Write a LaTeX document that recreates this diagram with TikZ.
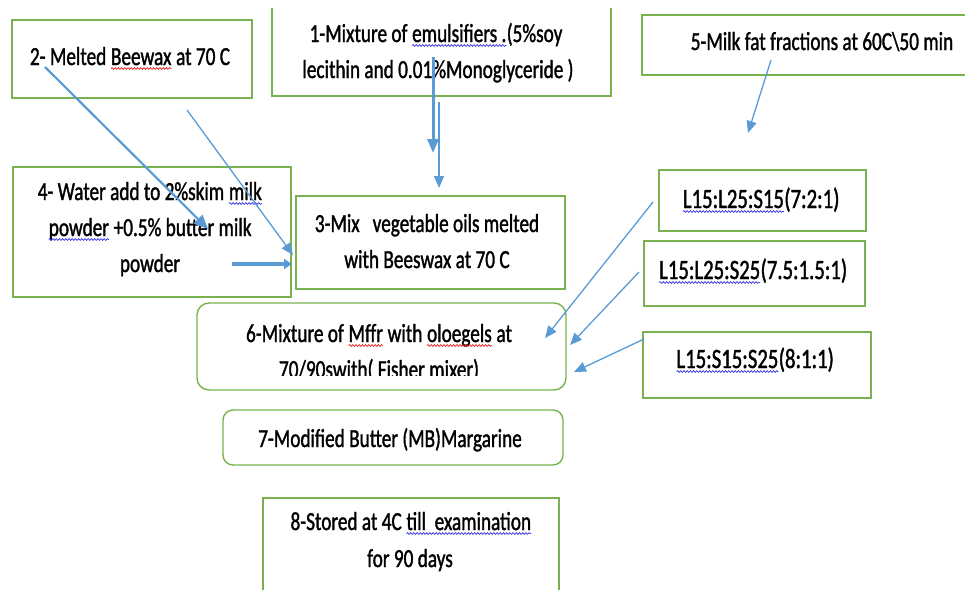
\documentclass[tikz,border=0pt]{standalone}
\usepackage{fontspec}
\setmainfont{Carlito}[FakeStretch=0.74,FakeBold=1.3]
\usetikzlibrary{arrows.meta,decorations.pathmorphing}
\definecolor{boxgreen}{RGB}{120,178,80}
\definecolor{arrowblue}{RGB}{91,155,213}
\definecolor{sqred}{RGB}{230,30,30}
\definecolor{sqblue}{RGB}{50,50,230}
\newcommand\sqw[2]{\tikz[baseline=(w.base)]{\node[inner sep=0pt,outer sep=0pt] (w) {#2};\draw[#1,line width=0.7pt,decorate,decoration={snake,amplitude=0.9pt,segment length=3.2pt}] ([yshift=-3.5pt]w.base west) -- ([yshift=-3.5pt]w.base east);}}
\begin{document}
\begin{tikzpicture}[x=1pt,y=-1pt,
  box/.style={draw=boxgreen,line width=1.4pt,inner sep=0pt,outer sep=0pt,anchor=north west},
  rbox/.style={box,rounded corners=12pt},
  txt/.style={font=\fontsize{26}{36}\selectfont,inner sep=0pt,outer sep=0pt,anchor=base},
  ltxt/.style={txt,font=\fontsize{28}{36}\selectfont},
  arrthin/.style={draw=arrowblue,line width=1.3pt,-{Triangle[length=12pt,width=10pt]}},
  arrmed/.style={draw=arrowblue,line width=2.2pt,-{Triangle[length=14pt,width=12pt]}},
  arrthick/.style={draw=arrowblue,line width=3pt,-{Triangle[length=14pt,width=11pt]}},
  arrfat/.style={draw=arrowblue,line width=4pt,-{Triangle[length=8pt,width=10pt]}}]
\useasboundingbox (0,0) rectangle (965,589);
\clip (0,0) rectangle (965,589);

% boxes
\node[box,minimum width=240pt,minimum height=78pt] (b2) at (12,20) {};
\begin{scope}
\clip (0,8) rectangle (965,589);
\node[box,minimum width=339pt,minimum height=120pt] (b1) at (272,-24) {};
\end{scope}
\node[box,minimum width=340pt,minimum height=60pt] (b5) at (642,15) {};
\node[box,minimum width=278pt,minimum height=130pt] (b4) at (13,167) {};
\node[box,minimum width=269pt,minimum height=93pt] (b3) at (296,196) {};
\node[rbox,minimum width=369pt,minimum height=87pt] (b6) at (197,303) {};
\node[rbox,rounded corners=10pt,minimum width=340pt,minimum height=55pt] (b7) at (223,410) {};
\node[box,minimum width=296pt,minimum height=120pt] (b8) at (263,498) {};
\node[box,minimum width=207pt,minimum height=61pt] (l1) at (659,170) {};
\node[box,minimum width=221pt,minimum height=65pt] (l2) at (644,241) {};
\node[box,minimum width=228pt,minimum height=66pt] (l3) at (643,332) {};

% texts
\node[txt] (t2) at (130,65) {2- Melted \sqw{sqred}{Beewax} at 70 C};
\node[txt] (t1a) at (436,42) {1-Mixture of \sqw{sqblue}{emulsifiers .}(5\%soy};
\node[txt] (t1b) at (438,78) {lecithin and 0.01\%Monoglyceride )};
\node[txt] (t5) at (822,50) {5-Milk fat fractions at 60C\textbackslash 50 min};
\node[txt] (t4a) at (150,200) {4- Water add to 2\%skim \sqw{sqblue}{milk}};
\node[txt] (t4b) at (150,236) {\sqw{sqblue}{powder} +0.5\% butter milk};
\node[txt] (t4c) at (150,272) {powder};
\node[txt] (t3a) at (427,232) {3-Mix\ \ \ vegetable oils melted};
\node[txt] (t3b) at (427,268) {with Beeswax at 70 C};
\node[txt] (t6a) at (379,342) {6-Mixture of \sqw{sqred}{Mffr} with \sqw{sqred}{oloegels} at};
\begin{scope}
\clip (150,300) rectangle (600,375);
\node[txt] (t6b) at (379,378) {70/90swith( Fisher mixer)};
\end{scope}
\node[txt] (t7) at (390,447) {7-Modified Butter (MB)Margarine};
\node[txt] (t8a) at (411,530) {8-Stored at 4C \sqw{sqblue}{till\ \ examination}};
\node[txt] (t8b) at (410,567) {for 90 days};
\node[ltxt] (tl1) at (761,208) {\sqw{sqblue}{L15:L25:S15}(7:2:1)};
\node[ltxt] (tl2) at (753,279) {\sqw{sqblue}{L15:L25:S25}(7.5:1.5:1)};
\node[ltxt] (tl3) at (755,368) {\sqw{sqblue}{L15:S15:S25}(8:1:1)};

% arrow end points
\coordinate (a1s) at (433,57);  \coordinate (a1e) at (433,153);
\coordinate (a2s) at (439,102); \coordinate (a2e) at (439,188);
\coordinate (a3s) at (45,67);   \coordinate (a3e) at (208,229);
\coordinate (a4s) at (187,110); \coordinate (a4e) at (293,255);
\coordinate (a5s) at (232,264); \coordinate (a5e) at (292,264);
\coordinate (a6s) at (771,60);  \coordinate (a6e) at (748,133);
\coordinate (a7s) at (653,202); \coordinate (a7e) at (545,338);
\coordinate (a8s) at (639,272); \coordinate (a8e) at (570,345);
\coordinate (a9s) at (644,339); \coordinate (a9e) at (574,372);

\draw[arrthick] (a1s) -- (a1e);
\draw[arrthin] (a2s) -- (a2e);
\draw[arrmed] (a3s) -- (a3e);
\draw[arrthin] (a4s) -- (a4e);
\draw[arrfat] (a5s) -- (a5e);
\draw[arrthin] (a6s) -- (a6e);
\draw[arrthin] (a7s) -- (a7e);
\draw[arrthin] (a8s) -- (a8e);
\draw[arrthin] (a9s) -- (a9e);
\end{tikzpicture}
\end{document}
